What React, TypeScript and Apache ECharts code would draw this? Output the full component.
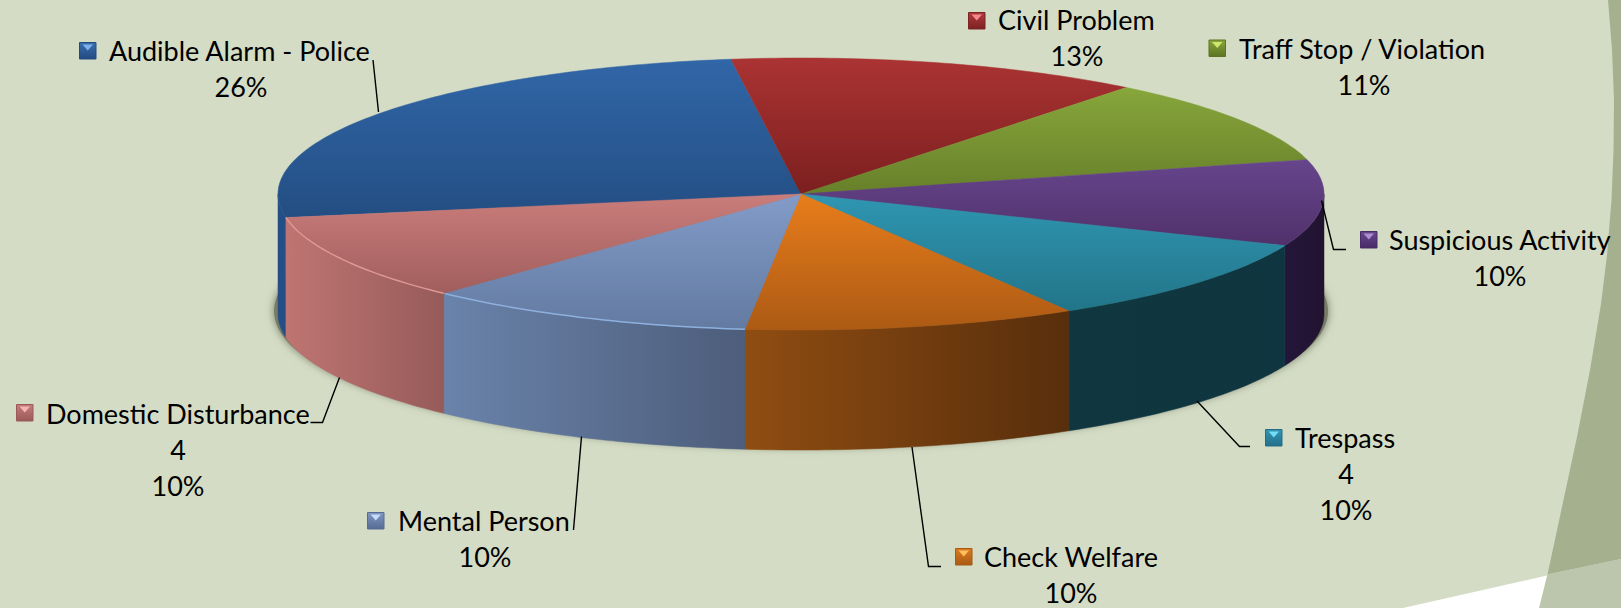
import React, { useEffect, useRef } from "react";
import * as echarts from "echarts";

// ---- data ----
const categories = [
  "Audible Alarm - Police",
  "Civil Problem",
  "Traff Stop / Violation",
  "Suspicious Activity",
  "Trespass",
  "Check Welfare",
  "Mental Person",
  "Domestic Disturbance",
];
const counts = [10, 5, 4, 4, 4, 4, 4, 4];
const percentLabels = ["26%", "13%", "11%", "10%", "10%", "10%", "10%", "10%"];
const showCount = [false, false, false, false, true, false, false, true];

// ---- styles ----
const topColors = [
  ["#3166a7", "#234e83"],
  ["#ab3333", "#7c1f1f"],
  ["#87a63b", "#67802a"],
  ["#66458c", "#50316b"],
  ["#2f96b2", "#227589"],
  ["#e87d1b", "#ac5a14"],
  ["#829bc8", "#637ba1"],
  ["#ca7d7b", "#a05e5d"],
];
const sideColors = [
  ["#234e86", "#234e86"],
  ["#7c1f1f", "#7c1f1f"],
  ["#556b20", "#556b20"],
  ["#24163a", "#21132f"],
  ["#10373f", "#0f3540"],
  ["#8f4d11", "#582e0c"],
  ["#6a83aa", "#4d5d7b"],
  ["#bf7572", "#965b59"],
];
const rimColors = [null, null, null, null, null, null, "#8db0de", "#dd9794"];
const keyColors = [
  ["#3a6fb0", "#234a80", "#7fb0ee"],
  ["#b03a3b", "#7c2223", "#f58a8c"],
  ["#8aa63c", "#5c7424", "#cfe66e"],
  ["#6a478f", "#472c68", "#ab90d2"],
  ["#3495b4", "#226f8a", "#74dcf5"],
  ["#dd7b20", "#a85a14", "#ffc060"],
  ["#7f97c2", "#566c94", "#c7dcf8"],
  ["#c67b79", "#9a5a58", "#f4b4b2"],
];

// ---- layout of the pie and its labels (pixels) ----
const PIE = { cx: 801, cy: 194, rx: 523, ry: 136, depth: 120, start: 260 };
// key left, key top, text left, percent centre x, first line centre y
const labelLayout = [
  { kx: 79, ky: 42, tx: 109, cxp: 241, y: 50 },
  { kx: 968, ky: 12, tx: 998, cxp: 1077, y: 19 },
  { kx: 1208.5, ky: 39.5, tx: 1239, cxp: 1364, y: 48 },
  { kx: 1360, ky: 231, tx: 1389, cxp: 1500, y: 239 },
  { kx: 1265, ky: 429, tx: 1295, cxp: 1346, y: 437 },
  { kx: 955, ky: 548, tx: 984, cxp: 1071, y: 556 },
  { kx: 367, ky: 512, tx: 398, cxp: 485, y: 520 },
  { kx: 16, ky: 404, tx: 46, cxp: 178, y: 413 },
];
const leaderLines = [
  [[373, 60], [378.5, 112]],
  null,
  null,
  [[1321.5, 200.5], [1333.5, 249.5], [1346, 249.5]],
  [[1197, 401], [1239.5, 446.5], [1250, 446.5]],
  [[912, 447], [928.5, 566.5], [941, 566.5]],
  [[581.5, 436.5], [573.5, 530]],
  [[339.5, 377.5], [322.5, 422.5], [310.5, 422.5]],
];
const LINE_H = 36;
const FONT = "27px Lato";

const total = counts.reduce((a, b) => a + b, 0);
const startAngles: number[] = [];
counts.reduce((acc, v) => {
  startAngles.push(acc);
  return acc + (v / total) * 360;
}, PIE.start);

const pt = (deg: number, dy = 0) => {
  const r = (deg * Math.PI) / 180;
  return [PIE.cx + PIE.rx * Math.sin(r), PIE.cy - PIE.ry * Math.cos(r) + dy];
};
const arc = (a: number, b: number, dy = 0) => {
  const out: number[][] = [];
  const n = Math.max(2, Math.ceil(Math.abs(b - a)));
  for (let i = 0; i <= n; i++) out.push(pt(a + ((b - a) * i) / n, dy));
  return out;
};
const vgrad = (c: string[]) =>
  new echarts.graphic.LinearGradient(0, 0, 0, 1, [
    { offset: 0, color: c[0] },
    { offset: 1, color: c[1] },
  ]);
const hgrad = (c: string[]) =>
  new echarts.graphic.LinearGradient(0, 0, 1, 0, [
    { offset: 0, color: c[0] },
    { offset: 1, color: c[1] },
  ]);

function renderSlice(params: any, api: any) {
  const i = params.dataIndex;
  const a0 = startAngles[i];
  const a1 = a0 + (api.value(0) / total) * 360;
  const walls: any[] = [];
  const rims: any[] = [];
  // visible wall: the part of the arc on the front half (90..270 degrees, also after one full turn)
  [0, 360].forEach((turn) => {
    const s0 = Math.max(a0, 90 + turn);
    const s1 = Math.min(a1, 270 + turn);
    if (s1 <= s0) return;
    walls.push({
      type: "polygon",
      silent: true,
      shape: { points: [...arc(s0, s1), ...arc(s1, s0, PIE.depth)] },
      style: { fill: hgrad(sideColors[i]), stroke: hgrad(sideColors[i]), lineWidth: 0.5 },
    });
    if (rimColors[i]) {
      rims.push({
        type: "polyline",
        silent: true,
        shape: { points: arc(s0, s1) },
        style: { stroke: rimColors[i], lineWidth: 1.5, fill: "none" },
      });
    }
  });
  const top = {
    type: "polygon",
    silent: true,
    shape: { points: [[PIE.cx, PIE.cy], ...arc(a0, a1)] },
    style: { fill: vgrad(topColors[i]), stroke: vgrad(topColors[i]), lineWidth: 0.5 },
  };
  return { type: "group", children: [...walls, top, ...rims] };
}

function renderLabel(params: any) {
  const i = params.dataIndex;
  const L = labelLayout[i];
  const K = keyColors[i];
  const S = 17.5;
  const text = (s: string, x: number, y: number, align: string) => ({
    type: "text",
    silent: true,
    style: { text: s, x, y, font: FONT, fill: "#000", align, verticalAlign: "middle" },
  });
  const children: any[] = [
    {
      type: "rect",
      silent: true,
      shape: { x: L.kx + 0.5, y: L.ky + 0.5, width: S - 1, height: S - 1 },
      style: { fill: vgrad([K[0], K[1]]), stroke: K[1], lineWidth: 1 },
    },
    {
      type: "polygon",
      silent: true,
      shape: {
        points: [
          [L.kx + 3.5, L.ky + 2.5],
          [L.kx + S - 3.5, L.ky + 2.5],
          [L.kx + S / 2, L.ky + 8.5],
        ],
      },
      style: { fill: K[2] },
    },
    text(categories[i], L.tx, L.y, "left"),
  ];
  let y = L.y + LINE_H;
  if (showCount[i]) {
    children.push(text(String(counts[i]), L.cxp, y, "center"));
    y += LINE_H;
  }
  children.push(text(percentLabels[i], L.cxp, y, "center"));
  const line = leaderLines[i];
  if (line) {
    children.push({
      type: "polyline",
      silent: true,
      shape: { points: line },
      style: { stroke: "#000", lineWidth: 1.4, fill: "none" },
    });
  }
  return { type: "group", children };
}

export default function App() {
  const ref = useRef<HTMLDivElement>(null);
  useEffect(() => {
    const chart = echarts.init(ref.current!, undefined, { renderer: "svg" });
    chart.setOption({
      animation: false,
      backgroundColor: "#d4dcc5",
      graphic: {
        elements: [
          {
            type: "polygon",
            z: 1,
            silent: true,
            shape: {
              points: [
                [1608, 0], [1612, 50], [1614, 100], [1613.5, 150], [1611.5, 200], [1607, 255],
                [1601, 304], [1590, 370], [1577, 437], [1547.5, 574.5], [1621, 559], [1621, 0],
              ],
            },
            style: { fill: "#a4b08e" },
          },
          {
            type: "polygon",
            z: 1,
            silent: true,
            shape: { points: [[1547.5, 574.5], [1621, 559], [1621, 608], [1539, 608]] },
            style: { fill: "#bcc6ad" },
          },
          {
            type: "polygon",
            z: 1,
            silent: true,
            shape: { points: [[1403, 608], [1547, 575.5], [1539, 608]] },
            style: { fill: "#ffffff" },
          },
          {
            type: "ellipse",
            z: 1,
            silent: true,
            shape: { cx: PIE.cx, cy: PIE.cy + PIE.depth - 3, rx: PIE.rx + 4, ry: PIE.ry },
            style: { fill: "#767c66", shadowBlur: 9, shadowColor: "#767c66" },
          },
        ],
      },
      series: [
        {
          type: "custom",
          name: "slices",
          coordinateSystem: "none",
          z: 5,
          clip: false,
          silent: true,
          renderItem: renderSlice,
          data: counts.map((v, i) => ({ name: categories[i], value: [v] })),
        },
        {
          type: "custom",
          name: "labels",
          coordinateSystem: "none",
          z: 6,
          clip: false,
          silent: true,
          renderItem: renderLabel,
          data: counts.map((v, i) => ({ name: categories[i], value: [v] })),
        },
      ],
    });
    return () => chart.dispose();
  }, []);
  return (
    <div
      ref={ref}
      style={{ position: "absolute", left: 0, top: 0, width: 1621, height: 608 }}
    />
  );
}
